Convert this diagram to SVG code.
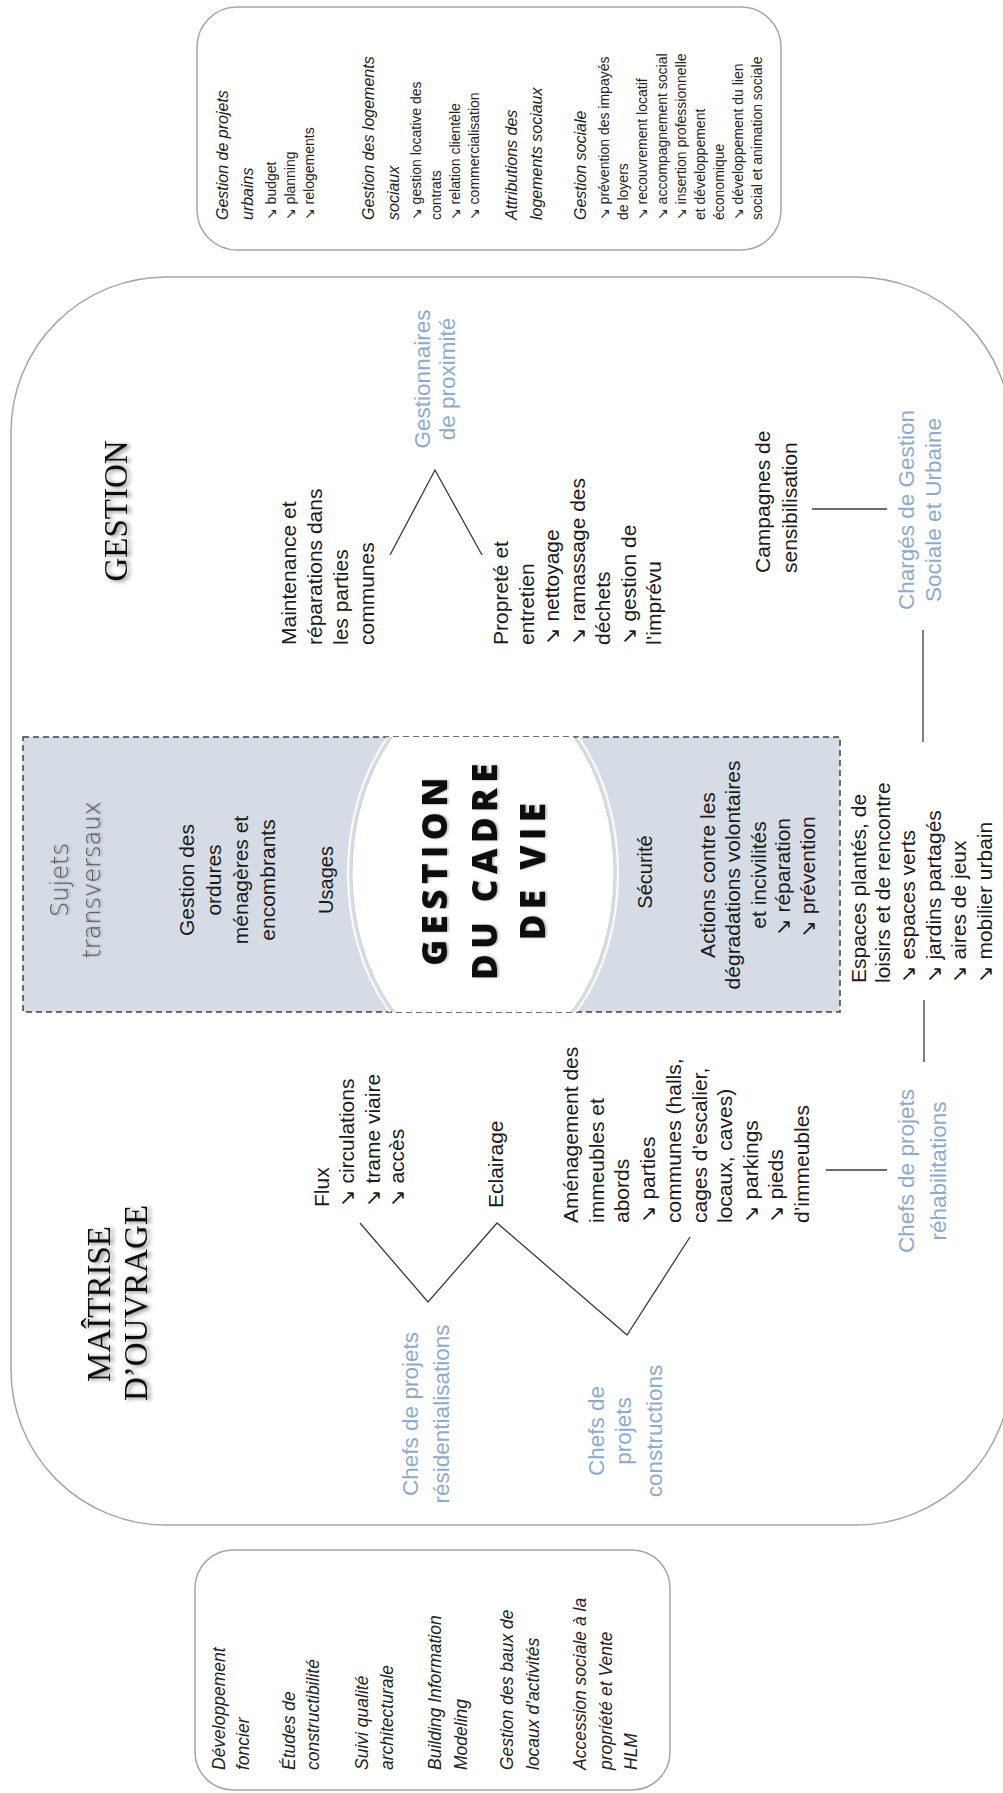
<svg xmlns="http://www.w3.org/2000/svg" width="1003" height="1793" viewBox="0 0 1003 1793">
<defs>
<style>
.frame{fill:none;stroke:#a6a6a6;stroke-width:1.5}
.body{font-family:"Liberation Sans","DejaVu Sans",sans-serif;font-size:21px;fill:#1a1a1a}
.ctr{text-anchor:middle}
.role{font-family:"Liberation Sans","DejaVu Sans",sans-serif;font-size:22.5px;fill:#8eaacc;text-anchor:middle}
.title{font-family:"Liberation Serif","DejaVu Serif",serif;font-size:33px;fill:#111;text-anchor:middle;filter:url(#shadow)}
.head{font-family:"Liberation Sans","DejaVu Sans",sans-serif;font-style:italic;font-size:16px;fill:#222}
.item{font-family:"Liberation Sans","DejaVu Sans",sans-serif;font-size:14px;fill:#222}
.boxtext{font-family:"Liberation Sans","DejaVu Sans",sans-serif;font-style:italic;font-size:17.5px;fill:#222}
.big{font-family:"Open Sans","Liberation Sans",sans-serif;font-weight:800;font-size:35px;letter-spacing:5.5px;fill:#111;text-anchor:middle;filter:url(#soft)}
.hand{font-family:"DejaVu Sans",sans-serif;font-weight:300;font-size:24px;fill:#5a5a5a;text-anchor:middle;filter:url(#soft)}
.conn{stroke:#3a3a3a;stroke-width:1.3;fill:none}
</style>
<filter id="shadow" x="-20%" y="-40%" width="140%" height="180%">
<feDropShadow dx="-1" dy="3" stdDeviation="2" flood-color="#000" flood-opacity="0.5"/>
</filter>
<filter id="soft" x="-20%" y="-40%" width="140%" height="180%">
<feDropShadow dx="0" dy="1.5" stdDeviation="1.2" flood-color="#000" flood-opacity="0.35"/>
</filter>
<filter id="lineblur" x="-20%" y="-200%" width="140%" height="500%">
<feDropShadow dx="1" dy="1" stdDeviation="1.2" flood-color="#000" flood-opacity="0.4"/>
</filter>
<clipPath id="bandclip"><rect x="23" y="737" width="817" height="275"/></clipPath>
</defs>

<g id="frames">
<rect id="box-gestion-extra" class="frame" x="197" y="7" width="584" height="243" rx="40"/>
<rect id="box-main" class="frame" x="11" y="277" width="1000" height="1248" rx="155"/>
<rect id="box-moa-extra" class="frame" x="195" y="1550" width="475" height="240" rx="38"/>
</g>

<g id="band">
<rect x="23" y="737" width="817" height="275" fill="#d6dce5" stroke="#404040" stroke-width="1.5" stroke-dasharray="6 4"/>
<g clip-path="url(#bandclip)">
<ellipse cx="483" cy="873" rx="135" ry="192" fill="none" stroke="#ffffff" stroke-width="2"/>
<ellipse cx="483" cy="873" rx="131" ry="188" fill="#ffffff" stroke="#c4ccd7" stroke-width="0.8"/>
</g>
</g>

<g id="connectors">
<polyline class="conn" points="390,555 435,470 482,555"/>
<line class="conn" x1="812" y1="509" x2="887" y2="509"/>
<line class="conn" x1="923" y1="630" x2="923" y2="742"/>
<line class="conn" x1="924" y1="1000" x2="924" y2="1062"/>
<polyline class="conn" points="360,1223 428,1302 497,1223 627,1335 690,1237"/>
<line class="conn" x1="826" y1="1170" x2="887" y2="1170"/>
<line x1="122" y1="877" x2="167" y2="877" stroke="#444" stroke-width="2" filter="url(#lineblur)"/>
</g>

<g transform="rotate(-90)">
<g id="n-extra-gestion">
<text class="head" x="-220" y="228">Gestion de projets</text>
<text class="head" x="-220" y="253">urbains</text>
<text class="item" x="-220" y="276">↘ budget</text>
<text class="item" x="-220" y="295">↘ planning</text>
<text class="item" x="-220" y="314">↘ relogements</text>
<text class="head" x="-220" y="374">Gestion des logements</text>
<text class="head" x="-220" y="399">sociaux</text>
<text class="item" x="-220" y="421">↘ gestion locative des</text>
<text class="item" x="-220" y="441">contrats</text>
<text class="item" x="-220" y="460">↘ relation clientèle</text>
<text class="item" x="-220" y="479">↘ commercialisation</text>
<text class="head" x="-220" y="517">Attributions des</text>
<text class="head" x="-220" y="542">logements sociaux</text>
<text class="head" x="-220" y="586">Gestion sociale</text>
<text class="item" x="-220" y="609">↘ prévention des impayés</text>
<text class="item" x="-220" y="628">de loyers</text>
<text class="item" x="-220" y="647">↘ recouvrement locatif</text>
<text class="item" x="-220" y="667">↘ accompagnement social</text>
<text class="item" x="-220" y="686">↘ insertion professionnelle</text>
<text class="item" x="-220" y="705">et développement</text>
<text class="item" x="-220" y="724">économique</text>
<text class="item" x="-220" y="743">↘ développement du lien</text>
<text class="item" x="-220" y="762">social et animation sociale</text>
</g>

<g id="n-extra-moa">
<text class="boxtext" x="-1770" y="225">Développement</text>
<text class="boxtext" x="-1770" y="249">foncier</text>
<text class="boxtext" x="-1770" y="295">Études de</text>
<text class="boxtext" x="-1770" y="319">constructibilité</text>
<text class="boxtext" x="-1770" y="368">Suivi qualité</text>
<text class="boxtext" x="-1770" y="393">architecturale</text>
<text class="boxtext" x="-1770" y="441">Building Information</text>
<text class="boxtext" x="-1770" y="467">Modeling</text>
<text class="boxtext" x="-1770" y="513">Gestion des baux de</text>
<text class="boxtext" x="-1770" y="539">locaux d’activités</text>
<text class="boxtext" x="-1770" y="586">Accession sociale à la</text>
<text class="boxtext" x="-1770" y="612">propriété et Vente</text>
<text class="boxtext" x="-1770" y="637">HLM</text>
</g>

<g id="n-title-gestion"><text class="title" x="-511" y="127">GESTION</text></g>
<g id="n-title-moa">
<text class="title" x="-1304" y="110">MAÎTRISE</text>
<text class="title" x="-1303" y="147">D’OUVRAGE</text>
</g>

<g id="n-gestionnaires">
<text class="role" x="-379" y="430">Gestionnaires</text>
<text class="role" x="-379" y="455">de proximité</text>
</g>
<g id="n-charges">
<text class="role" x="-510" y="914">Chargés de Gestion</text>
<text class="role" x="-510" y="941">Sociale et Urbaine</text>
</g>
<g id="n-chefs-resid">
<text class="role" x="-1414" y="418">Chefs de projets</text>
<text class="role" x="-1414" y="449">résidentialisations</text>
</g>
<g id="n-chefs-constr">
<text class="role" x="-1431" y="604">Chefs de</text>
<text class="role" x="-1431" y="631">projets</text>
<text class="role" x="-1431" y="662">constructions</text>
</g>
<g id="n-chefs-rehab">
<text class="role" x="-1171" y="914">Chefs de projets</text>
<text class="role" x="-1171" y="946">réhabilitations</text>
</g>

<g id="n-maintenance">
<text class="body" x="-645" y="296">Maintenance et</text>
<text class="body" x="-645" y="322">réparations dans</text>
<text class="body" x="-645" y="348">les parties</text>
<text class="body" x="-645" y="374">communes</text>
</g>
<g id="n-proprete">
<text class="body" x="-645" y="508">Propreté et</text>
<text class="body" x="-645" y="534">entretien</text>
<text class="body" x="-645" y="559">↘ nettoyage</text>
<text class="body" x="-645" y="585">↘ ramassage des</text>
<text class="body" x="-645" y="610">déchets</text>
<text class="body" x="-645" y="636">↘ gestion de</text>
<text class="body" x="-645" y="661">l’imprévu</text>
</g>
<g id="n-campagnes">
<text class="body" x="-573" y="770">Campagnes de</text>
<text class="body" x="-573" y="797">sensibilisation</text>
</g>

<g id="n-sujets">
<text class="hand" x="-880" y="68">Sujets</text>
<text class="hand" x="-880" y="100">transversaux</text>
</g>
<g id="n-ordures">
<text class="body ctr" x="-880" y="194">Gestion des</text>
<text class="body ctr" x="-880" y="221">ordures</text>
<text class="body ctr" x="-880" y="248">ménagères et</text>
<text class="body ctr" x="-880" y="275">encombrants</text>
</g>
<g id="n-usages"><text class="body ctr" x="-880" y="333" style="font-size:20px">Usages</text></g>

<g id="n-center">
<text class="big" x="-869" y="447">GESTION</text>
<text class="big" x="-869" y="497">DU CADRE</text>
<text class="big" x="-869" y="545">DE VIE</text>
</g>

<g id="n-securite"><text class="body ctr" x="-872" y="652" style="font-size:20px">Sécurité</text></g>
<g id="n-actions">
<text class="body ctr" x="-875" y="715">Actions contre les</text>
<text class="body ctr" x="-875" y="740">dégradations volontaires</text>
<text class="body ctr" x="-875" y="766">et incivilités</text>
<text class="body ctr" x="-877" y="790">↘ réparation</text>
<text class="body ctr" x="-877" y="815">↘ prévention</text>
</g>

<g id="n-espaces">
<text class="body" x="-983" y="866">Espaces plantés, de</text>
<text class="body" x="-983" y="890">loisirs et de rencontre</text>
<text class="body" x="-983" y="915">↘ espaces verts</text>
<text class="body" x="-983" y="941">↘ jardins partagés</text>
<text class="body" x="-983" y="966">↘ aires de jeux</text>
<text class="body" x="-983" y="992">↘ mobilier urbain</text>
</g>

<g id="n-flux">
<text class="body" x="-1207" y="329">Flux</text>
<text class="body" x="-1207" y="354">↘ circulations</text>
<text class="body" x="-1207" y="380">↘ trame viaire</text>
<text class="body" x="-1207" y="404">↘ accès</text>
</g>
<g id="n-eclairage"><text class="body" x="-1208" y="503">Eclairage</text></g>
<g id="n-amenagement">
<text class="body" x="-1223" y="578">Aménagement des</text>
<text class="body" x="-1223" y="604">immeubles et</text>
<text class="body" x="-1223" y="629">abords</text>
<text class="body" x="-1223" y="655">↘ parties</text>
<text class="body" x="-1223" y="681">communes (halls,</text>
<text class="body" x="-1223" y="707">cages d’escalier,</text>
<text class="body" x="-1223" y="732">locaux, caves)</text>
<text class="body" x="-1223" y="758">↘ parkings</text>
<text class="body" x="-1223" y="783">↘ pieds</text>
<text class="body" x="-1223" y="809">d’immeubles</text>
</g>
</g>
</svg>
